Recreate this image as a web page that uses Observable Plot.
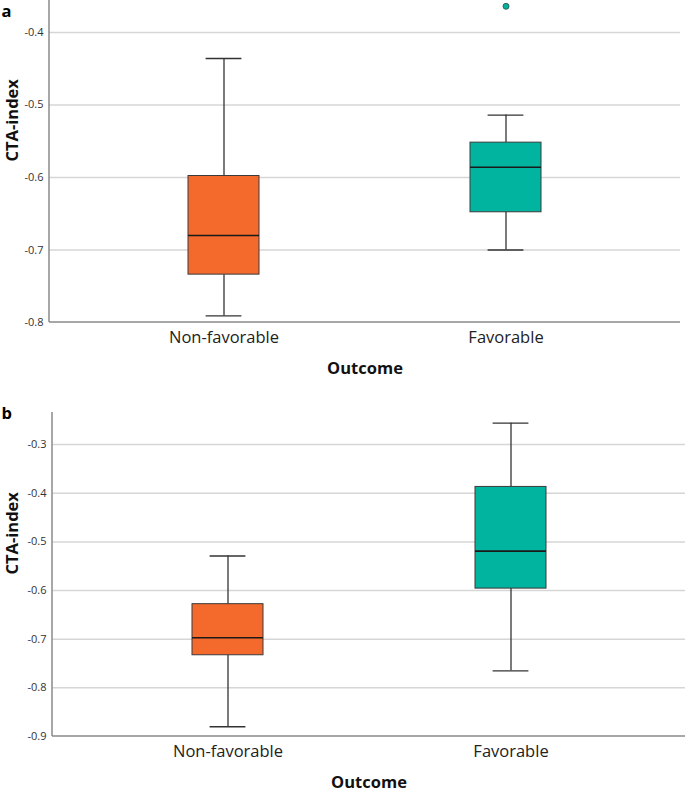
<!DOCTYPE html>
<html>
<head>
<meta charset="utf-8">
<script src="https://cdn.jsdelivr.net/npm/d3@7"></script>
<script src="https://cdn.jsdelivr.net/npm/@observablehq/plot@0.6"></script>
<style>
  html, body { margin: 0; padding: 0; background: #fff; }
  #wrap { width: 685px; }
  #wrap svg { display: block; }
</style>
</head>
<body>
<div id="wrap"></div>
<script>
// ---- data ----
const categories = ["Non-favorable", "Favorable"];
const boxColors = ["#F36A2C", "#00B4A0"];

// Panel a
const aLow    = [-0.791, -0.700];
const aQ1     = [-0.734, -0.648];
const aMedian = [-0.680, -0.586];
const aQ3     = [-0.598, -0.552];
const aHigh   = [-0.436, -0.514];
const aOutlierCats = ["Favorable"];
const aOutlierVals = [-0.364];
const aTicks = [-0.8, -0.7, -0.6, -0.5, -0.4];

// Panel b
const bLow    = [-0.880, -0.765];
const bQ1     = [-0.733, -0.596];
const bMedian = [-0.697, -0.519];
const bQ3     = [-0.628, -0.387];
const bHigh   = [-0.529, -0.256];
const bOutlierCats = [];
const bOutlierVals = [];
const bTicks = [-0.9, -0.8, -0.7, -0.6, -0.5, -0.4, -0.3];

const yTitle = "CTA-index";
const xTitle = "Outcome";

const FONT = "'Open Sans', 'Liberation Sans', sans-serif";

function axisLines(index, scales, values, dims) {
  const {width, height, marginLeft, marginRight, marginTop, marginBottom} = dims;
  const g = d3.create("svg:g").attr("stroke", "#8a8a8a").attr("stroke-width", 1.5);
  g.append("line").attr("x1", marginLeft).attr("x2", marginLeft)
    .attr("y1", marginTop).attr("y2", height - marginBottom);
  g.append("line").attr("x1", marginLeft).attr("x2", width - marginRight)
    .attr("y1", height - marginBottom).attr("y2", height - marginBottom);
  return g.node();
}

function panel({letter, low, q1, median, q3, high, oCats, oVals, ticks, domain,
                height, marginTop, marginBottom, marginLeft, marginRight, letterY, titleDx}) {
  const rows = categories.map((c, i) => ({
    cat: c, color: boxColors[i], lo: low[i], q1: q1[i], med: median[i], q3: q3[i], hi: high[i]
  }));
  const outliers = oCats.map((c, i) => ({cat: c, v: oVals[i], color: boxColors[categories.indexOf(c)]}));
  const grid = ticks.filter(t => t !== domain[0]);
  return Plot.plot({
    width: 685,
    height,
    marginTop, marginBottom, marginLeft, marginRight,
    style: {fontFamily: FONT, background: "#fff", overflow: "visible"},
    x: {domain: categories, paddingInner: 0.75, paddingOuter: 0.49, label: null},
    y: {domain, label: null},
    marks: [
      Plot.ruleY(grid, {stroke: "#d6d6d6", strokeWidth: 1.5}),
      axisLines,
      Plot.axisY({ticks, tickSize: 0, tickPadding: 6, fontSize: 11, fill: "#333",
                  tickFormat: d => d.toFixed(1), label: null}),
      Plot.axisX({tickSize: 0, tickPadding: 9, fontSize: 16.5, fill: "#222", label: null}),
      // whiskers
      Plot.ruleX(rows, {x: "cat", y1: "lo", y2: "q1", stroke: "#333", strokeWidth: 1.3}),
      Plot.ruleX(rows, {x: "cat", y1: "q3", y2: "hi", stroke: "#333", strokeWidth: 1.3}),
      Plot.tickY(rows, {x: "cat", y: "lo", stroke: "#333", strokeWidth: 1.3, inset: 17.6}),
      Plot.tickY(rows, {x: "cat", y: "hi", stroke: "#333", strokeWidth: 1.3, inset: 17.6}),
      // boxes
      Plot.barY(rows, {x: "cat", y1: "q1", y2: "q3", fill: d => d.color, stroke: "#3a3a3a", strokeWidth: 1}),
      Plot.tickY(rows, {x: "cat", y: "med", stroke: "#1a1a1a", strokeWidth: 1.6}),
      // outliers
      Plot.dot(outliers, {x: "cat", y: "v", r: 3, fill: d => d.color, stroke: "#2a4a45", strokeWidth: 0.8}),
      // titles
      Plot.text([yTitle], {frameAnchor: "left", rotate: -90, dx: titleDx, fontSize: 16.5,
                           fontWeight: "bold", fill: "#111"}),
      Plot.text([xTitle], {frameAnchor: "bottom", dy: 51, fontSize: 16.5,
                           fontWeight: "bold", fill: "#111"}),
      Plot.text([letter], {frameAnchor: "top-left", dx: -marginLeft + 1, dy: -marginTop + letterY,
                           textAnchor: "start", lineAnchor: "top", fontSize: 16.5,
                           fontWeight: "bold", fill: "#000"})
    ]
  });
}

const wrap = document.getElementById("wrap");
wrap.append(panel({
  letter: "a", low: aLow, q1: aQ1, median: aMedian, q3: aQ3, high: aHigh,
  oCats: aOutlierCats, oVals: aOutlierVals, ticks: aTicks, domain: [-0.8, -0.356],
  height: 400, marginTop: 0, marginBottom: 78, marginLeft: 49, marginRight: 5, letterY: 5, titleDx: -37
}));
wrap.append(panel({
  letter: "b", low: bLow, q1: bQ1, median: bMedian, q3: bQ3, high: bHigh,
  oCats: bOutlierCats, oVals: bOutlierVals, ticks: bTicks, domain: [-0.9, -0.234],
  height: 392, marginTop: 12, marginBottom: 56, marginLeft: 52, marginRight: 0, letterY: 7, titleDx: -40
}));
</script>
</body>
</html>
